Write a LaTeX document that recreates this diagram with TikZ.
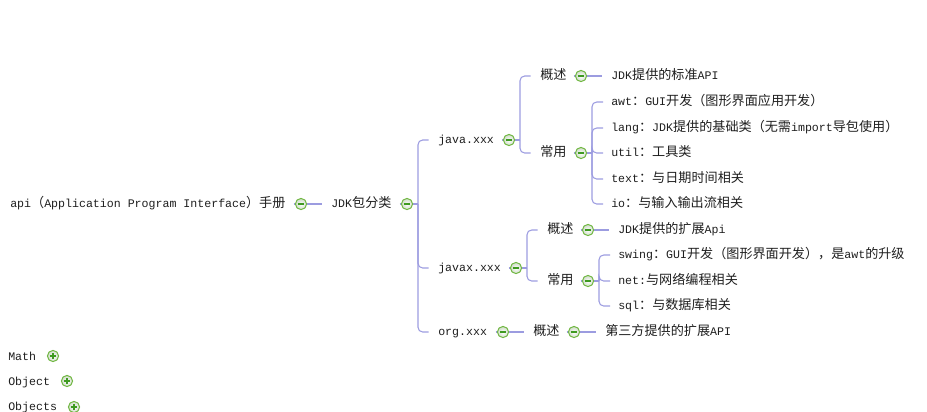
\documentclass[tikz,border=0pt]{standalone}
\usepackage{fontspec}
\setmainfont{Liberation Mono}
\newfontfamily\cjk{Noto Sans CJK SC}[Scale=1.13]
\newcommand\zh[1]{{\cjk #1}}
\definecolor{lnk}{HTML}{9C9CE0}
\definecolor{gline}{HTML}{72B844}
\definecolor{gsign}{HTML}{3E9A20}
\definecolor{gfill}{HTML}{CFDCC8}
\definecolor{txtc}{HTML}{1E1E1E}
\tikzset{
  txt/.style={anchor=west, inner sep=0pt, text height=6.5pt, text depth=1.5pt, font=\fontsize{8.7pt}{10pt}\selectfont, text=txtc},
  conn/.style={draw=lnk, line width=0.8pt, rounded corners=3.5pt},
  tog/.style={circle, draw=gline, line width=0.75pt, minimum size=8.4pt, inner sep=0pt, inner color=white, outer color=gfill},
  minus/.style={tog, path picture={\draw[gsign, line width=1pt] ([xshift=-2.4pt]path picture bounding box.center) -- ([xshift=2.4pt]path picture bounding box.center);}},
  plus/.style={tog, path picture={\draw[gsign, line width=1pt] ([xshift=-2.4pt]path picture bounding box.center) -- ([xshift=2.4pt]path picture bounding box.center) ([yshift=-2.4pt]path picture bounding box.center) -- ([yshift=2.4pt]path picture bounding box.center);}}
}
\begin{document}
\begin{tikzpicture}[x=0.75pt, y=-0.75pt]
\useasboundingbox (0,0) rectangle (927,411);
% nodes
\node[txt] (root) at (10,204.5) {api\zh{（}Application Program Interface\zh{）手册}};
\node[txt] (jdk) at (331,204.5) {JDK\zh{包分类}};
\node[txt] (java) at (438,140.5) {java.xxx};
\node[txt] (javax) at (438,268.5) {javax.xxx};
\node[txt] (org) at (438,332.5) {org.xxx};
\node[txt] (j1) at (540,76.5) {\zh{概述}};
\node[txt] (j2) at (540,153.5) {\zh{常用}};
\node[txt] (j1a) at (611,76.5) {JDK\zh{提供的标准}API};
\node[txt] (awt) at (611,102.5) {awt\zh{：}GUI\zh{开发（图形界面应用开发）}};
\node[txt] (lang) at (611,128.5) {lang\zh{：}JDK\zh{提供的基础类（无需}import\zh{导包使用）}};
\node[txt] (util) at (611,153.5) {util\zh{：工具类}};
\node[txt] (text) at (611,179.5) {text\zh{：与日期时间相关}};
\node[txt] (io) at (611,204.5) {io\zh{：与输入输出流相关}};
\node[txt] (x1) at (547,230.5) {\zh{概述}};
\node[txt] (x2) at (547,281.5) {\zh{常用}};
\node[txt] (x1a) at (618,230.5) {JDK\zh{提供的扩展}Api};
\node[txt] (swing) at (618,255.5) {swing\zh{：}GUI\zh{开发（图形界面开发），是}awt\zh{的升级}};
\node[txt] (net) at (618,281.5) {net:\zh{与网络编程相关}};
\node[txt] (sql) at (618,306.5) {sql\zh{：与数据库相关}};
\node[txt] (o1) at (533,332.5) {\zh{概述}};
\node[txt] (o1a) at (605,332.5) {\zh{第三方提供的扩展}API};
\node[txt] (math) at (8,357.5) {Math};
\node[txt] (object) at (8,382.5) {Object};
\node[txt] (objects) at (8,407.5) {Objects};
% toggles (positions)
\coordinate (p-root) at (301,204);
\coordinate (p-jdk) at (407,204);
\coordinate (p-java) at (509,140);
\coordinate (p-j1) at (581,76);
\coordinate (p-j2) at (581,153);
\coordinate (p-javax) at (516,268);
\coordinate (p-x1) at (588,230);
\coordinate (p-x2) at (588,281);
\coordinate (p-org) at (503,332);
\coordinate (p-o1) at (574,332);
% junction coordinates
\coordinate (b0) at (418,0);
\coordinate (b1) at (520,0);
\coordinate (b2) at (592,0);
\coordinate (b3) at (527,0);
\coordinate (b4) at (599,0);
% simple links
\draw[conn] ([xshift=-5.5pt]p-root) -- ([xshift=-7pt]jdk.west |- p-root);
\draw[conn] ([xshift=-5.5pt]p-j1) -- ([xshift=-7pt]j1a.west |- p-j1);
\draw[conn] ([xshift=-5.5pt]p-x1) -- ([xshift=-7pt]x1a.west |- p-x1);
\draw[conn] ([xshift=-5.5pt]p-org) -- ([xshift=-7pt]o1.west |- p-org);
\draw[conn] ([xshift=-5.5pt]p-o1) -- ([xshift=-7pt]o1a.west |- p-o1);
% brackets
\draw[conn] ([xshift=-5.5pt]p-jdk) -- (b0 |- p-jdk);
\foreach \c/\p in {java/java,javax/javax,org/org}
  \draw[conn] (b0 |- p-jdk) -- (b0 |- p-\p) -- ([xshift=-7pt]\c.west |- p-\p);
\draw[conn] ([xshift=-5.5pt]p-java) -- (b1 |- p-java);
\foreach \c in {j1,j2}
  \draw[conn] (b1 |- p-java) -- (b1 |- p-\c) -- ([xshift=-7pt]\c.west |- p-\c);
\draw[conn] ([xshift=-5.5pt]p-j2) -- (b2 |- p-j2);
\foreach \c/\y in {awt/102,lang/128,util/153,text/179,io/204}
  \draw[conn] (b2 |- p-j2) -- (592,\y) -- ([xshift=-6pt]\c.west |- 0,\y);
\draw[conn] ([xshift=-5.5pt]p-javax) -- (b3 |- p-javax);
\foreach \c in {x1,x2}
  \draw[conn] (b3 |- p-javax) -- (b3 |- p-\c) -- ([xshift=-7pt]\c.west |- p-\c);
\draw[conn] ([xshift=-5.5pt]p-x2) -- (b4 |- p-x2);
\foreach \c/\y in {swing/255,net/281,sql/306}
  \draw[conn] (b4 |- p-x2) -- (599,\y) -- ([xshift=-6pt]\c.west |- 0,\y);
% toggles
\node[minus] (t-root) at (p-root) {};
\node[minus] (t-jdk) at (p-jdk) {};
\node[minus] (t-java) at (p-java) {};
\node[minus] (t-j1) at (p-j1) {};
\node[minus] (t-j2) at (p-j2) {};
\node[minus] (t-javax) at (p-javax) {};
\node[minus] (t-x1) at (p-x1) {};
\node[minus] (t-x2) at (p-x2) {};
\node[minus] (t-org) at (p-org) {};
\node[minus] (t-o1) at (p-o1) {};
\node[plus] (t-math) at (53,356) {};
\node[plus] (t-object) at (67,381) {};
\node[plus] (t-objects) at (74,407) {};
\end{tikzpicture}
\end{document}
